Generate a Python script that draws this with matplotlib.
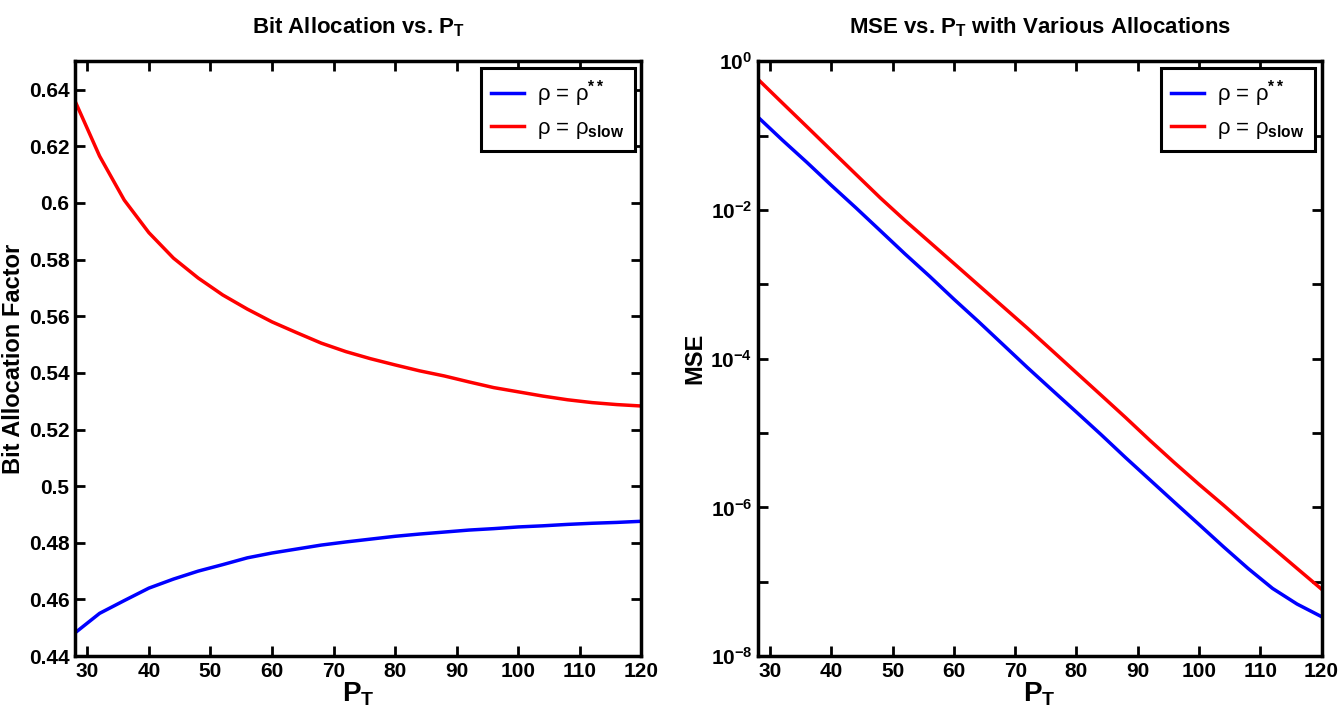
import math
import matplotlib
matplotlib.use("Agg")
import matplotlib.pyplot as plt
from matplotlib.ticker import FixedLocator, FuncFormatter

plt.rcParams['font.family'] = ['Liberation Sans', 'DejaVu Sans']
plt.rcParams['font.weight'] = 'bold'
plt.rcParams['axes.titleweight'] = 'bold'
plt.rcParams['axes.labelweight'] = 'bold'
plt.rcParams['mathtext.fontset'] = 'custom'
plt.rcParams['mathtext.rm'] = 'Liberation Sans:bold'
plt.rcParams['mathtext.bf'] = 'Liberation Sans:bold'
plt.rcParams['mathtext.it'] = 'Liberation Sans:bold'

# total power P_T
p_t = [28, 32, 36, 40, 44, 48, 52, 56, 60, 64, 68, 72,
       76, 80, 84, 88, 92, 96, 100, 104, 108, 112, 116, 120]

# bit allocation factor
rho_opt = [0.4482, 0.4551, 0.4596, 0.4640, 0.4672, 0.4700, 0.4723, 0.4747,
           0.4764, 0.4778, 0.4792, 0.4803, 0.4813, 0.4823, 0.4831, 0.4838,
           0.4845, 0.4850, 0.4856, 0.4860, 0.4865, 0.4869, 0.4872, 0.4876]
rho_slow = [0.6360, 0.6165, 0.6010, 0.5895, 0.5805, 0.5735, 0.5675, 0.5625,
            0.5580, 0.5542, 0.5505, 0.5475, 0.5450, 0.5428, 0.5407, 0.5389,
            0.5368, 0.5348, 0.5333, 0.5318, 0.5305, 0.5295, 0.5288, 0.5283]

# MSE
mse_opt = [0.178, 0.0871, 0.0437, 0.0214, 0.0107, 5.25e-3, 2.57e-3, 1.29e-3,
           6.31e-4, 3.16e-4, 1.55e-4, 7.59e-5, 3.80e-5, 1.91e-5, 9.55e-6, 4.68e-6,
           2.34e-6, 1.17e-6, 5.89e-7, 2.95e-7, 1.51e-7, 8.13e-8, 5.01e-8, 3.39e-8]
mse_slow = [0.575, 0.275, 0.132, 0.0631, 0.0302, 0.0145, 7.24e-3, 3.72e-3,
            1.91e-3, 9.77e-4, 5.01e-4, 2.57e-4, 1.29e-4, 6.46e-5, 3.24e-5, 1.62e-5,
            7.94e-6, 3.98e-6, 2.04e-6, 1.07e-6, 5.50e-7, 2.88e-7, 1.51e-7, 7.94e-8]

labels = [r'ρ = ρ$^{**}$', r'ρ = ρ$_{\mathrm{slow}}$']
x_ticks = [30, 40, 50, 60, 70, 80, 90, 100, 110, 120]

fig = plt.figure(figsize=(13.39, 7.21), dpi=100)
ax1 = fig.add_axes([0.056, 0.090, 0.423, 0.825])
ax2 = fig.add_axes([0.566, 0.090, 0.421, 0.825])


def style(ax):
    for s in ax.spines.values():
        s.set_linewidth(2.5)
    ax.tick_params(which='both', direction='in', top=True, right=True,
                   length=7, width=2, labelsize=15, pad=4)
    ax.set_xlim(28, 120)
    ax.set_xticks(x_ticks)
    ax.set_xlabel(r'P$_{\mathrm{T}}$', fontsize=20, labelpad=0)
    leg = ax.legend(loc='upper right', handlelength=1.5, handletextpad=0.6,
                    fancybox=False, borderpad=0.45, labelspacing=0.4,
                    borderaxespad=0.3,
                    prop={'weight': 'normal', 'size': 16})
    leg.get_frame().set_edgecolor('black')
    leg.get_frame().set_linewidth(2.2)
    leg.get_frame().set_alpha(1)


ax1.plot(p_t, rho_opt, color='#0000ff', lw=2.5, label=labels[0])
ax1.plot(p_t, rho_slow, color='#ff0000', lw=2.5, label=labels[1])
ax1.set_ylim(0.44, 0.65)
ax1.set_yticks([0.44, 0.46, 0.48, 0.5, 0.52, 0.54, 0.56, 0.58, 0.6, 0.62, 0.64])
ax1.yaxis.set_major_formatter(FuncFormatter(lambda v, p: f'{v:g}'))
ax1.set_ylabel('Bit Allocation Factor', fontsize=17, labelpad=3)
ax1.set_title(r'Bit Allocation vs. P$_{\mathrm{T}}$', fontsize=16, pad=20)
style(ax1)

ax2.semilogy(p_t, mse_opt, color='#0000ff', lw=2.5, label=labels[0])
ax2.semilogy(p_t, mse_slow, color='#ff0000', lw=2.5, label=labels[1])
ax2.set_ylim(1e-8, 1)
ax2.yaxis.set_major_locator(FixedLocator([10.0 ** k for k in range(-8, 1)]))
ax2.yaxis.set_minor_locator(FixedLocator([]))


def log_fmt(v, p):
    k = int(round(math.log10(v)))
    return r'10$^{%d}$' % k if k % 2 == 0 else ''


ax2.yaxis.set_major_formatter(FuncFormatter(log_fmt))
ax2.set_ylabel('MSE', fontsize=17, labelpad=3)
ax2.set_title(r'MSE vs. P$_{\mathrm{T}}$ with Various Allocations', fontsize=16, pad=20)
style(ax2)

fig.savefig('out.png', dpi=100)
